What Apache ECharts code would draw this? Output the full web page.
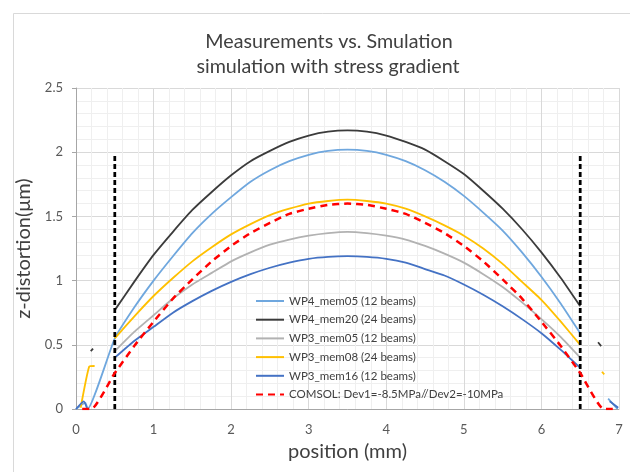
<!DOCTYPE html>
<html>
<head>
<meta charset="utf-8">
<script src="https://cdn.jsdelivr.net/npm/echarts@6/dist/echarts.min.js"></script>
<style>
  html, body { margin: 0; padding: 0; background: #ffffff; }
  #chart { width: 630px; height: 472px; }
</style>
</head>
<body>
<div id="chart"></div>
<script>
// Profile positions (mm) of the measured membrane region
const posMain = [0.5, 0.75, 1, 1.25, 1.5, 1.75, 2, 2.25, 2.5, 2.75, 3, 3.25, 3.5,
                 3.75, 4, 4.25, 4.5, 4.75, 5, 5.25, 5.5, 5.75, 6, 6.25, 6.5];

// Measured z-distortion (µm)
const wp4Mem05 = [0.55, 0.79, 1.00, 1.19, 1.37, 1.52, 1.65, 1.77, 1.86, 1.93, 1.98, 2.01, 2.02,
                  2.01, 1.98, 1.93, 1.86, 1.77, 1.66, 1.53, 1.39, 1.22, 1.03, 0.82, 0.59];
const wp4Mem20 = [0.77, 0.99, 1.20, 1.38, 1.55, 1.69, 1.82, 1.93, 2.01, 2.08, 2.13, 2.16, 2.17,
                  2.16, 2.13, 2.08, 2.02, 1.93, 1.83, 1.70, 1.56, 1.40, 1.22, 1.02, 0.80];
const wp3Mem05 = [0.45, 0.60, 0.73, 0.86, 0.97, 1.06, 1.15, 1.22, 1.28, 1.32, 1.35, 1.37, 1.38,
                  1.37, 1.35, 1.32, 1.27, 1.21, 1.14, 1.05, 0.95, 0.83, 0.70, 0.56, 0.40];
const wp3Mem08 = [0.55, 0.72, 0.88, 1.02, 1.15, 1.26, 1.36, 1.44, 1.51, 1.56, 1.60, 1.62, 1.63,
                  1.62, 1.60, 1.56, 1.50, 1.43, 1.35, 1.25, 1.13, 0.99, 0.85, 0.68, 0.50];
const wp3Mem16 = [0.40, 0.53, 0.64, 0.75, 0.84, 0.92, 0.99, 1.05, 1.10, 1.14, 1.17, 1.185, 1.19,
                  1.185, 1.17, 1.14, 1.09, 1.04, 0.97, 0.89, 0.80, 0.70, 0.59, 0.46, 0.32];

// Short edge pieces of the profiles, [position, z]
const wp4Mem05Left  = [[0, 0], [0.12, 0.05], [0.15, 0]];
const wp4Mem05Right = [[6.86, 0.08], [6.98, 0]];
const wp4Mem20Left  = [[0.19, 0.45], [0.22, 0.47]];
const wp4Mem20Right = [[6.73, 0.52], [6.77, 0.49]];
const wp3Mem08Left  = [[0.06, 0.01], [0.17, 0.33], [0.24, 0.335]];
const wp3Mem08Right = [[6.78, 0.29], [6.81, 0.27]];
const wp3Mem16Left  = [[0, 0], [0.1, 0.06], [0.14, 0.01]];
const wp3Mem16Right = [[6.88, 0.06], [6.99, 0.01]];

// COMSOL simulation
const posComsol = [0.08, 0.2, 0.5, 0.75, 1, 1.25, 1.5, 1.75, 2, 2.25, 2.5, 2.75, 3, 3.25, 3.5,
                   3.75, 4, 4.25, 4.5, 4.75, 5, 5.25, 5.5, 5.75, 6, 6.25, 6.5, 6.8, 6.92];
const comsol = [0, 0, 0.28, 0.49, 0.68, 0.86, 1.01, 1.15, 1.27, 1.37, 1.45, 1.52, 1.56, 1.59, 1.60,
                1.59, 1.56, 1.52, 1.45, 1.37, 1.27, 1.15, 1.01, 0.86, 0.68, 0.49, 0.28, 0, 0];

// Clamping edges of the membrane
const edgePositions = [0.5, 6.5];
const edgeTop = 1.97;

const seriesNames = ['WP4_mem05 (12 beams)', 'WP4_mem20 (24 beams)', 'WP3_mem05 (12 beams)',
                     'WP3_mem08 (24 beams)', 'WP3_mem16 (12 beams)', 'COMSOL: Dev1=-8.5MPa//Dev2=-10MPa'];

const GAP = ['-', '-'];
const zip = (xs, ys) => xs.map((x, i) => [x, ys[i]]);
const join = (...parts) => {
  const out = [];
  parts.forEach(p => {
    if (p === null) { out.push(GAP); } else { out.push(...p); }
  });
  return out;
};

const FONT = 'Lato';
const TXT = '#404040';

function curve(name, data, color, width, dash) {
  return {
    name, type: 'line', data,
    showSymbol: false, symbol: 'none', smooth: 0.15,
    lineStyle: { color, width, type: dash || 'solid', cap: 'butt' },
    itemStyle: { color },
    emphasis: { disabled: true },
    animation: false
  };
}

const series = [
  curve(seriesNames[0], join(wp4Mem05Left, zip(posMain, wp4Mem05), null, wp4Mem05Right), '#6fa7de', 1.8),
  curve(seriesNames[1], join(wp4Mem20Left, null, zip(posMain, wp4Mem20), null, wp4Mem20Right), '#3b3b3b', 1.8),
  curve(seriesNames[2], zip(posMain, wp3Mem05), '#b2b2b2', 1.8),
  curve(seriesNames[3], join(wp3Mem08Left, null, zip(posMain, wp3Mem08), null, wp3Mem08Right), '#ffc000', 1.8),
  curve(seriesNames[4], join(wp3Mem16Left, null, zip(posMain, wp3Mem16), null, wp3Mem16Right), '#4472c4', 1.8),
];
edgePositions.forEach(x => {
  series.push({
    type: 'line', data: [[x, 0], [x, edgeTop]], showSymbol: false, symbol: 'none', silent: true,
    lineStyle: { color: '#000000', width: 2.75, type: [5, 3], cap: 'butt' }, animation: false
  });
});
series.push(curve(seriesNames[5], zip(posComsol, comsol), '#ff0000', 2.5, [7, 5]));

const chart = echarts.init(document.getElementById('chart'), null, { renderer: 'canvas' });
chart.setOption({
  backgroundColor: '#ffffff',
  animation: false,
  textStyle: { fontFamily: FONT },
  graphic: [
    { type: 'rect', shape: { x: 13.5, y: 13.5, width: 700, height: 500 }, style: { fill: 'none', stroke: '#d9d9d9', lineWidth: 1 }, silent: true, z: -1 },
    { type: 'text', x: 329, y: 42, style: { text: 'Measurements vs. Smulation', fontFamily: FONT, fontSize: 19.7, fill: TXT, textAlign: 'center', textVerticalAlign: 'middle' } },
    { type: 'text', x: 328, y: 67, style: { text: 'simulation with stress gradient', fontFamily: FONT, fontSize: 19.7, fill: TXT, textAlign: 'center', textVerticalAlign: 'middle' } }
  ],
  grid: { left: 76, right: 11, top: 88, bottom: 63, containLabel: false },
  legend: {
    data: seriesNames,
    orient: 'vertical', left: 255, top: 295, padding: 0,
    itemWidth: 28, itemHeight: 12, itemGap: 6.7,
    itemStyle: { opacity: 0 },
    textStyle: { fontFamily: FONT, fontSize: 11.5, color: TXT, lineHeight: 12 },
    selectedMode: false
  },
  xAxis: {
    type: 'value', min: 0, max: 7, interval: 1,
    name: 'position (mm)', nameLocation: 'middle', nameGap: 33,
    nameTextStyle: { fontFamily: FONT, fontSize: 20, color: TXT },
    axisLine: { show: true, lineStyle: { color: '#a6a6a6', width: 1 } },
    axisTick: { show: false },
    axisLabel: { margin: 14, fontFamily: FONT, fontSize: 13, color: '#595959' },
    splitLine: { show: true, lineStyle: { color: '#d9d9d9', width: 1 } },
    minorTick: { show: false, splitNumber: 5 },
    minorSplitLine: { show: true, lineStyle: { color: '#efefef', width: 1 } }
  },
  yAxis: {
    type: 'value', min: 0, max: 2.5, interval: 0.5,
    name: 'z-distortion(μm)', nameLocation: 'middle', nameGap: 37,
    nameTextStyle: { fontFamily: FONT, fontSize: 20, color: TXT },
    axisLine: { show: true, lineStyle: { color: '#a6a6a6', width: 1 } },
    axisTick: { show: true, length: 4, inside: false, lineStyle: { color: '#a6a6a6' } },
    axisLabel: { margin: 13, fontFamily: FONT, fontSize: 13, color: '#595959' },
    splitLine: { show: true, lineStyle: { color: '#d9d9d9', width: 1 } },
    minorTick: { show: false, splitNumber: 5 },
    minorSplitLine: { show: true, lineStyle: { color: '#efefef', width: 1 } }
  },
  series
});
</script>
</body>
</html>
